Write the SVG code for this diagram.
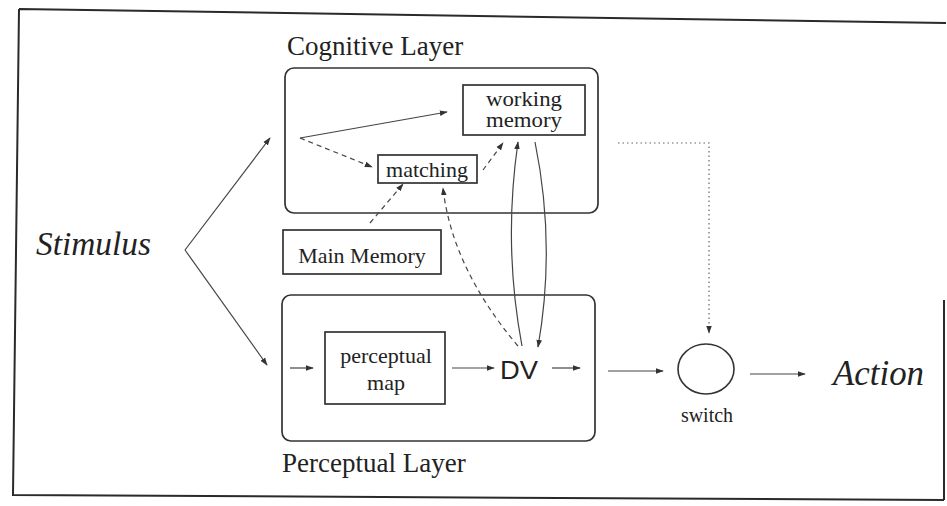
<svg xmlns="http://www.w3.org/2000/svg" width="947" height="506" viewBox="0 0 947 506">
  <style>
    .frame { fill: none; stroke: #2a2a2a; stroke-width: 2; }
    .layer { fill: none; stroke: #333; stroke-width: 1.7; }
    .box { fill: none; stroke: #333; stroke-width: 1.7; }
    .lbl { font-family: "Liberation Serif", "Times New Roman", serif; fill: #222; }
    .it { font-style: italic; }
    .edge { fill: none; stroke: #444; stroke-width: 1.2; }
    .dash { stroke-dasharray: 5 4; }
    .dot { stroke-dasharray: 1.5 3; stroke: #666; }
  </style>
  <defs>
    <marker id="arr" viewBox="0 0 10 10" refX="9" refY="5" markerWidth="8" markerHeight="8" markerUnits="userSpaceOnUse" orient="auto">
      <path d="M0,1.5 L10,5 L0,8.5 Z" fill="#333"/>
    </marker>
  </defs>

  <rect width="947" height="506" fill="#ffffff"/>

  <!-- outer frame -->
  <path class="frame" d="M19,9 L946,23 M19,9 L13,495 L944,500 M944,300 L944,500"/>

  <g id="cognitive-layer">
    <text class="lbl" x="287" y="55" font-size="27">Cognitive Layer</text>
    <rect class="layer" x="285" y="68" width="313" height="145" rx="9"/>
  </g>

  <g id="working-memory">
    <rect class="box" x="463" y="85" width="122" height="50"/>
    <text class="lbl" x="524" y="106" font-size="20" text-anchor="middle" textLength="76" lengthAdjust="spacingAndGlyphs">working</text>
    <text class="lbl" x="524" y="127" font-size="20" text-anchor="middle" textLength="76" lengthAdjust="spacingAndGlyphs">memory</text>
  </g>

  <g id="matching">
    <rect class="box" x="378" y="155" width="99" height="28"/>
    <text class="lbl" x="427" y="177" font-size="22" text-anchor="middle">matching</text>
  </g>

  <g id="main-memory">
    <rect class="box" x="283" y="230" width="158" height="44"/>
    <text class="lbl" x="362" y="263" font-size="22" text-anchor="middle">Main Memory</text>
  </g>

  <g id="perceptual-layer">
    <rect class="layer" x="282" y="295" width="313" height="146" rx="9"/>
    <text class="lbl" x="282" y="472" font-size="27">Perceptual Layer</text>
  </g>

  <g id="perceptual-map">
    <rect class="box" x="325" y="332" width="120" height="72"/>
    <text class="lbl" x="386" y="363" font-size="22" text-anchor="middle">perceptual</text>
    <text class="lbl" x="386" y="390" font-size="22" text-anchor="middle">map</text>
  </g>

  <g id="dv">
    <text x="500" y="379" font-family="'Liberation Sans', Arial, sans-serif" font-size="25" fill="#222" textLength="38" lengthAdjust="spacingAndGlyphs">DV</text>
  </g>

  <g id="switch">
    <ellipse cx="706" cy="369" rx="28" ry="25" fill="none" stroke="#333" stroke-width="1.6"/>
    <text class="lbl" x="707" y="422" font-size="20" text-anchor="middle">switch</text>
  </g>

  <g id="stimulus">
    <text class="lbl it" x="36" y="255" font-size="34" textLength="115" lengthAdjust="spacingAndGlyphs">Stimulus</text>
  </g>

  <g id="action">
    <text class="lbl it" x="833" y="385" font-size="35" textLength="91" lengthAdjust="spacingAndGlyphs">Action</text>
  </g>

  <g id="connectors">
    <!-- stimulus fan-out -->
    <path class="edge" d="M185,250 L270,138" marker-end="url(#arr)"/>
    <path class="edge" d="M185,250 L267,365" marker-end="url(#arr)"/>

    <!-- cognitive layer internals -->
    <path class="edge" d="M300,138 L447,112" marker-end="url(#arr)"/>
    <path class="edge dash" d="M300,138 L372,167" marker-end="url(#arr)"/>
    <path class="edge dash" d="M483,170 L503,143" marker-end="url(#arr)"/>
    <path class="edge dash" d="M370,223 L403,184" marker-end="url(#arr)"/>
    <path class="edge dash" d="M518,346 Q452,268 443,188" marker-end="url(#arr)"/>

    <!-- DV and working memory exchange -->
    <path class="edge" d="M522,346 Q503,245 518,142" marker-end="url(#arr)"/>
    <path class="edge" d="M535,142 Q556,245 538,347" marker-end="url(#arr)"/>

    <!-- perceptual flow -->
    <path class="edge" d="M290,368 L313,368" marker-end="url(#arr)"/>
    <path class="edge" d="M452,368 L494,368" marker-end="url(#arr)"/>
    <path class="edge" d="M552,368 L580,368" marker-end="url(#arr)"/>
    <path class="edge" d="M608,371 L663,371" marker-end="url(#arr)"/>
    <path class="edge" d="M750,374 L805,374" marker-end="url(#arr)"/>

    <!-- control line into the switch -->
    <path class="edge dot" d="M618,143 L709,143 L709,333" marker-end="url(#arr)"/>
  </g>
</svg>
